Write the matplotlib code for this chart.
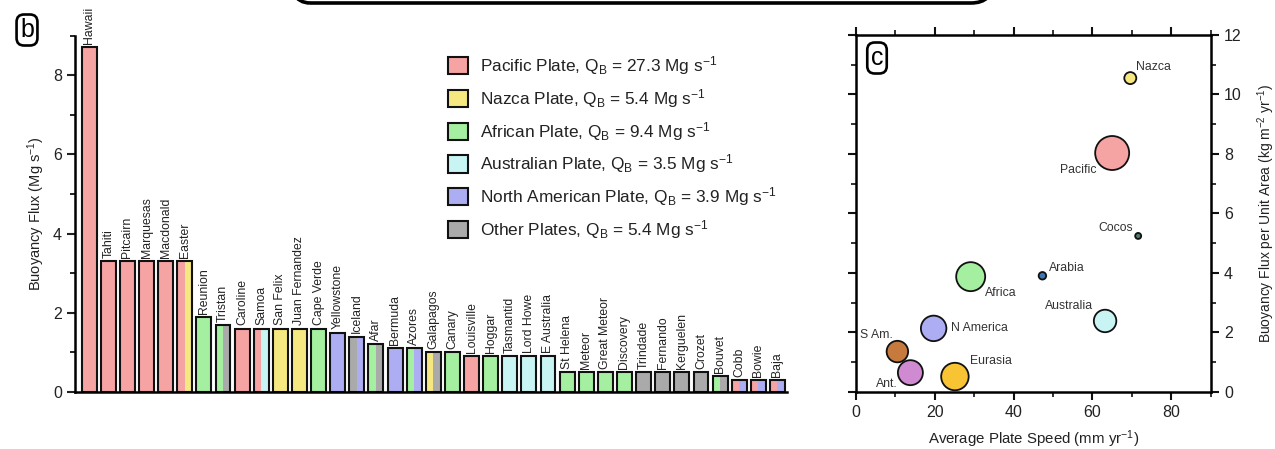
import matplotlib
matplotlib.use("Agg")
import matplotlib.pyplot as plt
from matplotlib.patches import Patch, FancyBboxPatch
from matplotlib.transforms import IdentityTransform
from matplotlib.ticker import MultipleLocator
import numpy as np

plt.rcParams['font.family'] = ['Liberation Sans', 'DejaVu Sans']
plt.rcParams['mathtext.fontset'] = 'custom'
plt.rcParams['mathtext.rm'] = 'Liberation Sans'
plt.rcParams['mathtext.it'] = 'Liberation Sans:italic'
plt.rcParams['mathtext.bf'] = 'Liberation Sans:bold'

# ---------------- data: panel b ----------------
hotspots = ["Hawaii", "Tahiti", "Pitcairn", "Marquesas", "Macdonald", "Easter",
            "Reunion", "Tristan", "Caroline", "Samoa", "San Felix", "Juan Fernandez",
            "Cape Verde", "Yellowstone", "Iceland", "Afar", "Bermuda", "Azores",
            "Galapagos", "Canary", "Louisville", "Hoggar", "Tasmantid", "Lord Howe",
            "E Australia", "St Helena", "Meteor", "Great Meteor", "Discovery",
            "Trindade", "Fernando", "Kerguelen", "Crozet", "Bouvet", "Cobb",
            "Bowie", "Baja"]
flux = [8.7, 3.3, 3.3, 3.3, 3.3, 3.3,
        1.9, 1.7, 1.6, 1.6, 1.6, 1.6,
        1.6, 1.5, 1.4, 1.2, 1.1, 1.1,
        1.0, 1.0, 0.9, 0.9, 0.9, 0.9,
        0.9, 0.5, 0.5, 0.5, 0.5,
        0.5, 0.5, 0.5, 0.5, 0.4, 0.3,
        0.3, 0.3]
plate_left = ["PA", "PA", "PA", "PA", "PA", "PA",
              "AF", "AF", "PA", "PA", "NZ", "NZ",
              "AF", "NA", "OT", "AF", "NA", "AF",
              "NZ", "AF", "PA", "AF", "AU", "AU",
              "AU", "AF", "AF", "AF", "AF",
              "OT", "OT", "OT", "OT", "AF", "PA",
              "PA", "PA"]
plate_right = ["PA", "PA", "PA", "PA", "PA", "NZ",
               "AF", "OT", "PA", "AU", "NZ", "NZ",
               "AF", "NA", "NA", "OT", "NA", "NA",
               "OT", "AF", "PA", "AF", "AU", "AU",
               "AU", "AF", "AF", "AF", "AF",
               "OT", "OT", "OT", "OT", "OT", "NA",
               "NA", "NA"]
legend_codes = ["PA", "NZ", "AF", "AU", "NA", "OT"]
legend_names = ["Pacific Plate", "Nazca Plate", "African Plate",
                "Australian Plate", "North American Plate", "Other Plates"]
legend_qb = [27.3, 5.4, 9.4, 3.5, 3.9, 5.4]

# ---------------- data: panel c ----------------
plates_c = ["Nazca", "Pacific", "Cocos", "Arabia", "Africa", "Australia",
            "N America", "S Am.", "Ant.", "Eurasia"]
speed = [69.6, 65.0, 71.6, 47.3, 29.1, 63.2, 19.7, 10.5, 13.8, 25.1]
flux_area = [10.55, 8.03, 5.24, 3.90, 3.87, 2.38, 2.13, 1.35, 0.64, 0.51]
bubble_diam = [12, 34, 6, 7.5, 29, 22.5, 25.5, 21.5, 25, 27.5]

# ---------------- styles ----------------
plate_colors = {"PA": "#f6a3a3", "NZ": "#f6e880", "AF": "#a4f0a0",
                "AU": "#c8f4f4", "NA": "#adadf3", "OT": "#aaaaaa"}
bubble_colors = ["#f6e880", "#f6a3a3", "#4f7d6c", "#3f77b0", "#a4f0a0",
                 "#c8f4f4", "#adadf3", "#c77a3e", "#d08ad2", "#f8c433"]
label_style = [  # (dx px, dy px, ha)
    (6, 11, "left"), (-16, -17, "right"), (-5, 8, "right"), (7, 8, "left"),
    (14, -16, "left"), (-12, 15, "right"), (17, 0, "left"), (-5, 17, "right"),
    (-13, -11, "right"), (15, 16, "left")]

W, H = 1275, 449
fig = plt.figure(figsize=(W / 100, H / 100), dpi=100)

# ---------------- panel b ----------------
axb = fig.add_axes([75 / W, 1 - 392 / H, (787 - 75) / W, (392 - 35.6) / H])
x = np.arange(len(hotspots))
w = 0.78
c_left = [plate_colors[p] for p in plate_left]
c_right = [plate_colors[p] for p in plate_right]
axb.bar(x - w / 4, flux, w / 2, color=c_left, linewidth=0)
axb.bar(x + w / 4, flux, w / 2, color=c_right, linewidth=0)
axb.bar(x, flux, w, fill=False, edgecolor="#111111", linewidth=1.5)
for xi, h, name in zip(x, flux, hotspots):
    axb.text(xi, h + 0.08, name, rotation=90, ha="center", va="bottom",
             fontsize=8.8, color="#222222")
axb.set_xlim(-0.74, 36.5)
axb.set_ylim(0, 9)
axb.spines["top"].set_visible(False)
axb.spines["right"].set_visible(False)
axb.spines["left"].set_linewidth(1.8)
axb.spines["bottom"].set_linewidth(1.8)
axb.set_xticks([])
axb.yaxis.set_major_locator(MultipleLocator(2))
axb.yaxis.set_minor_locator(MultipleLocator(1))
axb.tick_params(axis="y", which="major", direction="out", length=6, width=1.5,
                labelsize=11.5, colors="#222222")
axb.tick_params(axis="y", which="minor", direction="out", length=3.5, width=1.2)
axb.set_ylabel("Buoyancy Flux (Mg s$^{-1}$)", fontsize=10.5, color="#222222",
               labelpad=4)

handles = [Patch(facecolor=plate_colors[c], edgecolor="#111111", linewidth=1.5)
           for c in legend_codes]
labels = [f"{n}, Q$_{{\\mathrm{{B}}}}$ = {q} Mg s$^{{-1}}$"
          for n, q in zip(legend_names, legend_qb)]
fig.legend(handles, labels, loc="upper left", bbox_to_anchor=(441 / W, 1 - 47 / H),
           frameon=False, fontsize=12.4, handlelength=1.15, handleheight=1.15,
           labelspacing=0.58, handletextpad=0.7, borderaxespad=0,
           labelcolor="#222222")

# ---------------- panel c ----------------
axc = fig.add_axes([856 / W, 1 - 391.7 / H, (1210.7 - 856) / W, (391.7 - 35) / H])
sizes = [(d * 0.72) ** 2 for d in bubble_diam]
axc.scatter(speed, flux_area, s=sizes, c=bubble_colors, edgecolors="#111111",
            linewidths=1.3, zorder=3)
for name, sx, fy, (dx, dy, ha) in zip(plates_c, speed, flux_area, label_style):
    axc.annotate(name, (sx, fy), xytext=(dx * 0.72, dy * 0.72),
                 textcoords="offset points", ha=ha, va="center",
                 fontsize=8.8, color="#333333")
axc.set_xlim(0, 90)
axc.set_ylim(0, 12)
axc.xaxis.set_major_locator(MultipleLocator(20))
axc.xaxis.set_minor_locator(MultipleLocator(10))
axc.yaxis.set_major_locator(MultipleLocator(2))
axc.yaxis.set_minor_locator(MultipleLocator(1))
axc.yaxis.tick_right()
axc.yaxis.set_label_position("right")
axc.tick_params(which="both", top=True, left=True, right=True, bottom=True,
                direction="out", colors="#111111")
axc.tick_params(which="major", length=6, width=1.5, labelsize=11.5,
                labelcolor="#222222")
axc.tick_params(which="minor", length=3.5, width=1.2)
for s in axc.spines.values():
    s.set_linewidth(1.8)
axc.set_xlabel("Average Plate Speed (mm yr$^{-1}$)", fontsize=10.8,
               color="#222222", labelpad=6)
axc.set_ylabel("Buoyancy Flux per Unit Area (kg m$^{-2}$ yr$^{-1}$)",
               fontsize=10, color="#222222", labelpad=10)

# ---------------- panel letters and top box ----------------
fig.text(27 / W, 1 - 30 / H, "b", fontsize=18, ha="center", va="center",
         bbox=dict(boxstyle="round,pad=0.14,rounding_size=0.3", fc="white",
                   ec="black", lw=1.9))
fig.text(877 / W, 1 - 58 / H, "c", fontsize=18, ha="center", va="center",
         bbox=dict(boxstyle="round,pad=0.14,rounding_size=0.3", fc="white",
                   ec="black", lw=1.9))
top_box = FancyBboxPatch((288, H - 3), 705, 60,
                         boxstyle="round,pad=0,rounding_size=22",
                         transform=IdentityTransform(), fc="none", ec="black",
                         lw=2.6, clip_on=False)
fig.patches.append(top_box)

fig.savefig("out.png", dpi=100)
